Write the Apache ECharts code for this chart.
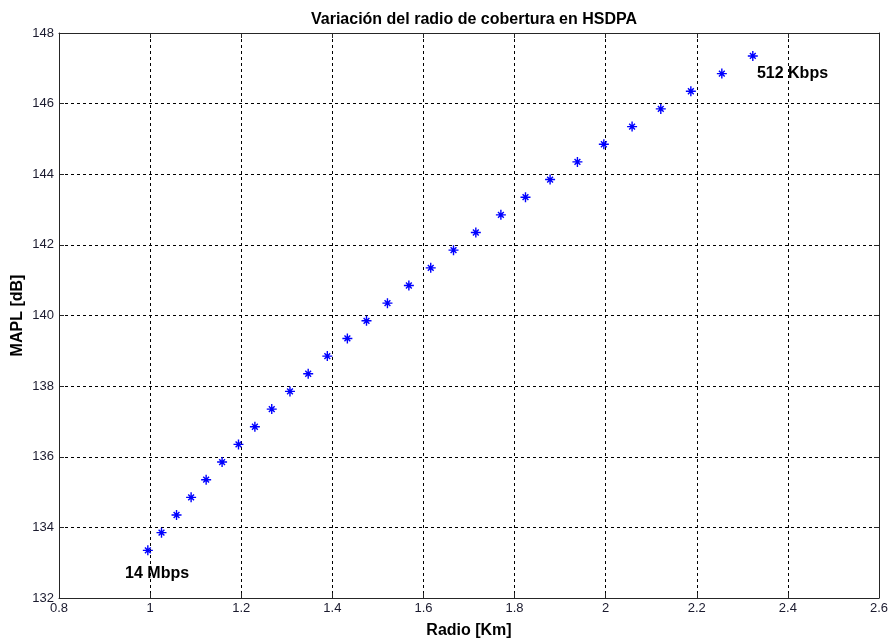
<!DOCTYPE html>
<html>
<head>
<meta charset="utf-8">
<script src="https://cdn.jsdelivr.net/npm/echarts@6/dist/echarts.min.js"></script>
<style>html,body{margin:0;padding:0;background:#fff;}#c{width:892px;height:644px;}</style>
</head>
<body>
<div id="c"></div>
<script>
const titleText = 'Variación del radio de cobertura en HSDPA';
const xName = 'Radio [Km]';
const yName = 'MAPL [dB]';
const radio = [0.995, 1.025, 1.058, 1.090, 1.123, 1.158, 1.194, 1.230, 1.267, 1.307,
  1.347, 1.389, 1.433, 1.475, 1.521, 1.568, 1.616, 1.666, 1.715, 1.770,
  1.824, 1.878, 1.938, 1.996, 2.058, 2.121, 2.187, 2.255, 2.323];
const mapl = [133.35, 133.85, 134.35, 134.85, 135.35, 135.85, 136.35, 136.85, 137.35, 137.85,
  138.35, 138.85, 139.35, 139.85, 140.35, 140.85, 141.35, 141.85, 142.35, 142.85,
  143.35, 143.85, 144.35, 144.85, 145.35, 145.85, 146.35, 146.85, 147.35];
const annotText = ['14 Mbps', '512 Kbps'];
const annotX = [0.945, 2.332];
const annotY = [132.68, 146.84];

const star = 'path://M43 0L57 0L57 100L43 100Z M0 43L100 43L100 57L0 57Z M16 26L26 16L84 74L74 84Z M74 16L84 26L26 84L16 74Z';
const font = '"Liberation Sans", Arial, sans-serif';
const axisLine = {show: true, lineStyle: {color: '#262626', width: 1}};
const gridLine = {show: true, lineStyle: {color: '#000', width: 1, type: [3, 3]}};

const chart = echarts.init(document.getElementById('c'), null, {renderer: 'canvas'});
chart.setOption({
  animation: false,
  backgroundColor: '#fff',
  title: {
    text: titleText, left: 469, top: 7, textAlign: 'center',
    textStyle: {fontFamily: font, fontSize: 16, fontWeight: 'bold', color: '#000'}
  },
  grid: {left: 59, top: 33, right: 13, bottom: 46, outerBoundsMode: 'none', containLabel: false},
  xAxis: [{
    type: 'value', min: 0.8, max: 2.6, interval: 0.2,
    name: xName, nameLocation: 'middle', nameGap: 25, nameMoveOverlap: false,
    nameTextStyle: {fontFamily: font, fontSize: 16, fontWeight: 'bold', color: '#000'},
    axisLine: axisLine,
    axisTick: {show: true, inside: true, length: 5, lineStyle: {color: '#262626'}},
    axisLabel: {fontFamily: font, fontSize: 13, color: '#1a1a2e', margin: 4,
      formatter: v => String(Math.round(v * 10) / 10)},
    splitLine: gridLine
  }, {
    type: 'value', position: 'top', min: 0.8, max: 2.6, interval: 0.2,
    axisLine: axisLine,
    axisTick: {show: true, inside: true, length: 5, lineStyle: {color: '#262626'}},
    axisLabel: {show: false}, splitLine: {show: false}
  }],
  yAxis: [{
    type: 'value', min: 132, max: 148, interval: 2,
    name: yName, nameLocation: 'middle', nameGap: 33, nameRotate: 90, nameMoveOverlap: false,
    nameTextStyle: {fontFamily: font, fontSize: 16, fontWeight: 'bold', color: '#000'},
    axisLine: axisLine,
    axisTick: {show: true, inside: true, length: 5, lineStyle: {color: '#262626'}},
    axisLabel: {fontFamily: font, fontSize: 13, color: '#1a1a2e', margin: 5},
    splitLine: gridLine
  }, {
    type: 'value', position: 'right', min: 132, max: 148, interval: 2,
    axisLine: axisLine,
    axisTick: {show: true, inside: true, length: 5, lineStyle: {color: '#262626'}},
    axisLabel: {show: false}, splitLine: {show: false}
  }],
  series: [{
    type: 'scatter', xAxisIndex: 0, yAxisIndex: 0,
    data: radio.map((x, i) => [x, mapl[i]]),
    symbol: star, symbolSize: 10,
    itemStyle: {color: '#0000ff', opacity: 1}
  }, {
    type: 'scatter', xAxisIndex: 0, yAxisIndex: 0,
    data: annotX.map((x, i) => ({value: [x, annotY[i]], name: annotText[i]})),
    symbolSize: 0, silent: true,
    itemStyle: {opacity: 1},
    label: {show: true, position: 'right', distance: 0, formatter: p => p.name,
      fontFamily: font, fontSize: 16, fontWeight: 'bold', color: '#000'}
  }]
});
</script>
</body>
</html>
